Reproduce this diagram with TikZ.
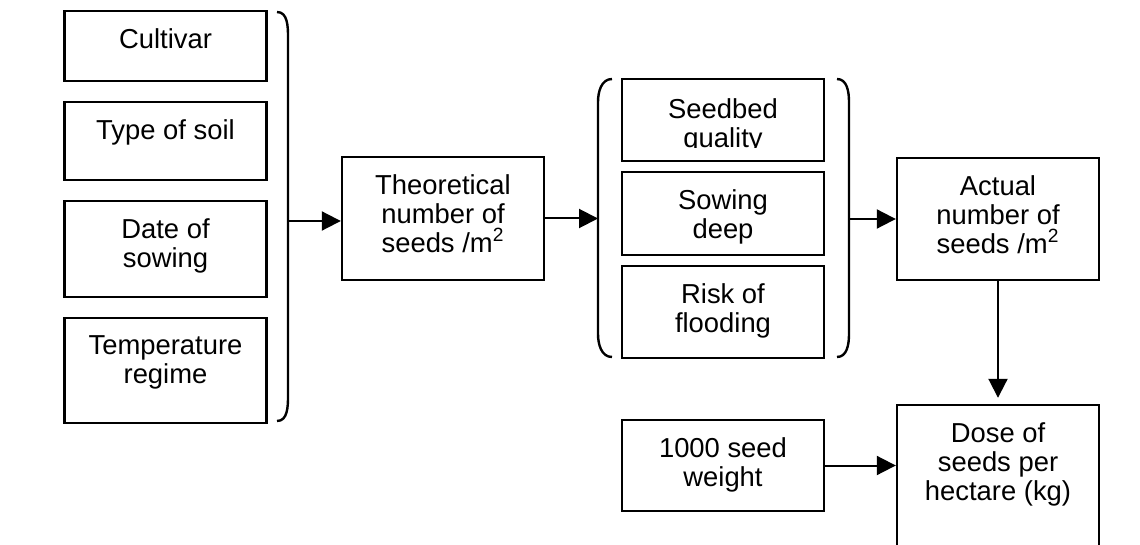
\documentclass[tikz,border=0pt]{standalone}
\usepackage{fontspec}
\setmainfont{Liberation Sans}
\usetikzlibrary{arrows.meta}

\begin{document}
\begin{tikzpicture}[x=0.5pt, y=-0.5pt,
		box/.style={draw, line width=1.2pt, fill=white, minimum width=101pt, inner sep=0pt},
		lbl/.style={anchor=north, inner sep=0pt, align=center, yshift=-9pt, font=\fontsize{13.7}{14.5}\selectfont},
		arr/.style={-{Triangle[length=9.5pt,width=9.5pt]}, line width=1pt},
		paren/.style={line width=1.2pt}]
		
		\useasboundingbox (0,0) rectangle (1140,545);
		
		% factors for the theoretical number
		\node[box, minimum height=35pt] (cult) at (165.5,46) {};
		\node[box, minimum height=39pt] (soil) at (165.5,141) {};
		\node[box, minimum height=48pt] (date) at (165.5,249) {};
		\node[box, minimum height=52.5pt] (temp) at (165.5,370.5) {};
		\node[lbl] (cultT) at (cult.north) {Cultivar};
		\node[lbl] (soilT) at (soil.north) {Type of soil};
		\node[lbl] (dateT) at (date.north) {Date of\\sowing};
		\node[lbl] (tempT) at (temp.north) {Temperature\\regime};
		
		\draw[paren] (277,12) to[out=0, in=90] (288,37) -- (288,396) to[out=-90, in=0] (277,421);
		\coordinate (in1) at (288,221);
		
		\node[box, minimum height=61.5pt] (theo) at (443,218.5) {};
		\node[lbl] (theoT) at (theo.north) {Theoretical\\number of\\seeds /m\textsuperscript{2}};
		
		% field conditions
		\node[box, minimum height=41pt] (seed) at (723,120) {};
		\node[box, minimum height=41.5pt] (sow) at (723,213.5) {};
		\node[box, minimum height=46pt] (risk) at (723,312) {};
		\begin{scope}
			\clip (seed.north west) rectangle ([yshift=7.5pt]seed.south east);
			\node[lbl, yshift=-1pt] (seedT) at (seed.north) {Seedbed\\quality};
		\end{scope}
		\node[lbl] (sowT) at (sow.north) {Sowing\\deep};
		\node[lbl] (riskT) at (risk.north) {Risk of\\flooding};
		
		\draw[paren] (612,79) to[out=180, in=90] (598,102) -- (598,334) to[out=-90, in=180] (612,357);
		\draw[paren] (837,79) to[out=0, in=90] (849,102) -- (849,334) to[out=-90, in=0] (837,357);
		\coordinate (in2) at (598,219);
		\coordinate (out2) at (849,219);
		
		\node[box, minimum height=61pt] (act) at (998,219) {};
		\node[lbl] (actT) at (act.north) {Actual\\number of\\seeds /m\textsuperscript{2}};
		
		\node[box, minimum height=45.5pt] (wt) at (723,465.5) {};
		\node[lbl] (wtT) at (wt.north) {1000 seed\\weight};
		\node[box, minimum height=80pt] (dose) at (998,485) {};
		\node[lbl] (doseT) at (dose.north) {Dose of\\seeds per\\hectare (kg)};
		
		\draw[arr] (in1) -- (in1 -| theo.west);
		\draw[arr] (theo.east) -- (theo.east -| in2);
		\draw[arr] (out2) -- (out2 -| act.west);
		\draw[arr, shorten >=3pt] (act) -- (dose);
		\draw[arr] (wt) -- (wt -| dose.west);
		
	\end{tikzpicture}
\end{document}
